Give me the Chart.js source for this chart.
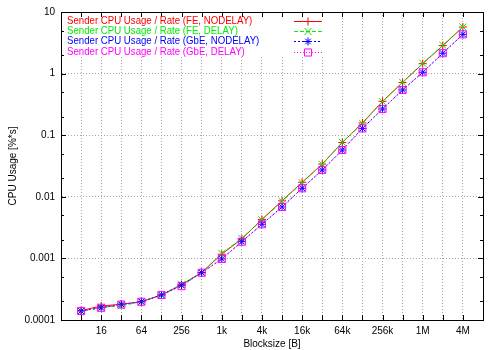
<!DOCTYPE html>
<html>
<head>
<meta charset="utf-8">
<script src="https://cdn.jsdelivr.net/npm/chart.js@4.4.1/dist/chart.umd.min.js"></script>
<style>
  html, body { margin: 0; padding: 0; background: #fff; }
  #wrap { width: 500px; height: 350px; }
</style>
</head>
<body>
<div id="wrap"><canvas id="cpuChart" width="500" height="350"></canvas></div>
<script>
// block sizes 8 B .. 4 MB
const blockSizes = [8, 16, 32, 64, 128, 256, 512, 1024, 2048, 4096, 8192, 16384, 32768, 65536,
  131072, 262144, 524288, 1048576, 2097152, 4194304];

const feNodelay = [1.42e-4, 1.69e-4, 1.80e-4, 1.98e-4, 2.55e-4, 3.75e-4, 5.9e-4, 1.17e-3, 2.08e-3, 4.3e-3,
  8.6e-3, 0.0172, 0.0340, 0.0760, 0.158, 0.355, 0.72, 1.45, 2.85, 5.7];
const feDelay = [1.40e-4, 1.60e-4, 1.70e-4, 1.98e-4, 2.55e-4, 3.8e-4, 5.9e-4, 1.21e-3, 2.12e-3, 4.2e-3,
  8.45e-3, 0.0169, 0.0337, 0.0767, 0.156, 0.350, 0.722, 1.47, 2.88, 5.71];
const gbeNodelay = [1.40e-4, 1.58e-4, 1.80e-4, 1.98e-4, 2.55e-4, 3.65e-4, 5.85e-4, 0.98e-3, 1.87e-3, 3.58e-3,
  6.83e-3, 0.01374, 0.0272, 0.0575, 0.129, 0.266, 0.542, 1.05, 2.14, 4.34];
const gbeDelay = [1.40e-4, 1.58e-4, 1.78e-4, 1.98e-4, 2.55e-4, 3.55e-4, 5.85e-4, 0.98e-3, 1.87e-3, 3.58e-3,
  6.83e-3, 0.01374, 0.0272, 0.0575, 0.129, 0.266, 0.542, 1.05, 2.14, 4.34];

const xTickValues = [8, 16, 32, 64, 128, 256, 512, 1024, 2048, 4096, 8192, 16384, 32768, 65536,
  131072, 262144, 524288, 1048576, 2097152, 4194304];
const xTickLabels = {16: '16', 64: '64', 256: '256', 1024: '1k', 4096: '4k', 16384: '16k',
  65536: '64k', 262144: '256k', 1048576: '1M', 4194304: '4M'};
const yTickValues = [0.0001, 0.001, 0.01, 0.1, 1, 10];
const yTickLabels = ['0.0001', '0.001', '0.01', '0.1', '1', '10'];
const yMinorValues = [2e-4, 5e-4, 2e-3, 5e-3, 2e-2, 5e-2, 0.2, 0.5, 2, 5];

const FONT = "'Liberation Sans', Arial, sans-serif";
const FSIZE = 10;

function pts(vals){
  return vals.map(function(v, i){ return {x: blockSizes[i], y: v}; });
}

const series = [
  {label: 'Sender CPU Usage / Rate (FE, NODELAY)', data: pts(feNodelay), color: '#ff0000', dash: [], style: 'cross', r: 4},
  {label: 'Sender CPU Usage / Rate (FE, DELAY)', data: pts(feDelay), color: '#00ee00', dash: [4, 2], style: 'crossRot', r: 5},
  {label: 'Sender CPU Usage / Rate (GbE, NODELAY)', data: pts(gbeNodelay), color: '#0000ff', dash: [2, 2], style: 'star', r: 4},
  {label: 'Sender CPU Usage / Rate (GbE, DELAY)', data: pts(gbeDelay), color: '#ff00ff', dash: [1, 2], style: 'rect', r: 5}
];

// frame, inward ticks and in-plot legend, gnuplot style
const gnuplotFrame = {
  id: 'gnuplotFrame',
  beforeDatasetsDraw: function(chart){
    // the key box hides the grid behind it
    const a = chart.chartArea;
    chart.ctx.save();
    chart.ctx.fillStyle = '#fff';
    chart.ctx.fillRect(a.left + 1, a.top + 1, 272, 43);
    chart.ctx.restore();
  },
  afterDraw: function(chart){
    const ctx = chart.ctx;
    const a = chart.chartArea;
    const xs = chart.scales.x, ys = chart.scales.y;
    ctx.save();
    ctx.strokeStyle = '#000';
    ctx.lineWidth = 1;
    ctx.setLineDash([]);
    ctx.beginPath();
    xTickValues.forEach(function(v){
      const px = Math.round(xs.getPixelForValue(v)) + 0.5;
      ctx.moveTo(px, a.bottom); ctx.lineTo(px, a.bottom - 5);
      ctx.moveTo(px, a.top); ctx.lineTo(px, a.top + 5);
    });
    yTickValues.forEach(function(v){
      const py = Math.round(ys.getPixelForValue(v)) + 0.5;
      ctx.moveTo(a.left, py); ctx.lineTo(a.left + 5, py);
      ctx.moveTo(a.right, py); ctx.lineTo(a.right - 5, py);
    });
    yMinorValues.forEach(function(v){
      const py = Math.round(ys.getPixelForValue(v)) + 0.5;
      ctx.moveTo(a.left, py); ctx.lineTo(a.left + 3, py);
      ctx.moveTo(a.right, py); ctx.lineTo(a.right - 3, py);
    });
    ctx.stroke();
    ctx.strokeRect(Math.round(a.left) + 0.5, Math.round(a.top) + 0.5,
      Math.round(a.right - a.left), Math.round(a.bottom - a.top));

    // legend (gnuplot font is a bit narrower than Liberation Sans)
    ctx.font = '11px ' + FONT;
    ctx.textBaseline = 'middle';
    ctx.textAlign = 'left';
    chart.data.datasets.forEach(function(ds, i){
      const y = a.top + 9 + i * 10.2;
      const yl = Math.round(y) + 0.5;
      ctx.save();
      ctx.translate(a.left + 6, y);
      ctx.scale(0.877, 1);
      ctx.fillStyle = ds.borderColor;
      ctx.fillText(ds.label, 0, 0);
      ctx.restore();
      ctx.strokeStyle = ds.borderColor;
      ctx.setLineDash(ds.borderDash);
      ctx.beginPath();
      ctx.moveTo(294, yl);
      ctx.lineTo(322, yl);
      ctx.stroke();
      ctx.setLineDash([]);
      ctx.fillStyle = 'rgba(0,0,0,0)';
      Chart.helpers.drawPoint(ctx, {pointStyle: ds.pointStyle, radius: ds.pointRadius, rotation: 0, borderWidth: 1}, 308, yl);
    });
    ctx.restore();
  }
};

new Chart(document.getElementById('cpuChart'), {
  type: 'line',
  data: {
    datasets: series.map(function(s, i){
      return {
        label: s.label,
        data: s.data,
        borderColor: s.color,
        backgroundColor: 'rgba(0,0,0,0)',
        borderWidth: 1,
        borderDash: s.dash,
        pointStyle: s.style,
        pointRadius: s.r,
        pointBorderWidth: 1,
        pointBorderColor: s.color,
        pointBackgroundColor: 'rgba(0,0,0,0)',
        tension: 0,
        order: 4 - i
      };
    })
  },
  options: {
    responsive: false,
    animation: false,
    layout: { padding: { top: 12, right: 17, left: 0, bottom: 0 } },
    plugins: { legend: { display: false }, tooltip: { enabled: false } },
    scales: {
      x: {
        type: 'logarithmic',
        min: 4,
        max: 8388608,
        afterBuildTicks: function(scale){
          scale.ticks = xTickValues.map(function(v){ return {value: v}; });
        },
        afterFit: function(scale){ scale.height = 30; },
        ticks: {
          autoSkip: false,
          maxRotation: 0,
          padding: 5,
          color: '#000',
          font: { family: FONT, size: FSIZE },
          callback: function(v){ return xTickLabels[v] || ''; }
        },
        grid: { color: '#a8a8a8', drawTicks: false, lineWidth: 1 },
        border: { display: true, color: '#000', dash: [1, 2] },
        title: { display: true, text: 'Blocksize [B]', color: '#000', font: { family: FONT, size: FSIZE }, padding: { top: 0, bottom: 0 } }
      },
      y: {
        type: 'logarithmic',
        min: 0.0001,
        max: 10,
        afterBuildTicks: function(scale){
          scale.ticks = yTickValues.map(function(v){ return {value: v}; });
        },
        afterFit: function(scale){ scale.width = 61; },
        ticks: {
          autoSkip: false,
          padding: 6,
          color: '#000',
          font: { family: FONT, size: FSIZE },
          callback: function(v){ return yTickLabels[yTickValues.indexOf(v)]; }
        },
        grid: { color: '#a8a8a8', drawTicks: false, lineWidth: 1 },
        border: { display: true, color: '#000', dash: [1, 2] },
        title: { display: true, text: 'CPU Usage [%*s]', color: '#000', font: { family: FONT, size: FSIZE }, padding: { top: 7, bottom: 0 } }
      }
    }
  },
  plugins: [gnuplotFrame]
});
</script>
</body>
</html>
